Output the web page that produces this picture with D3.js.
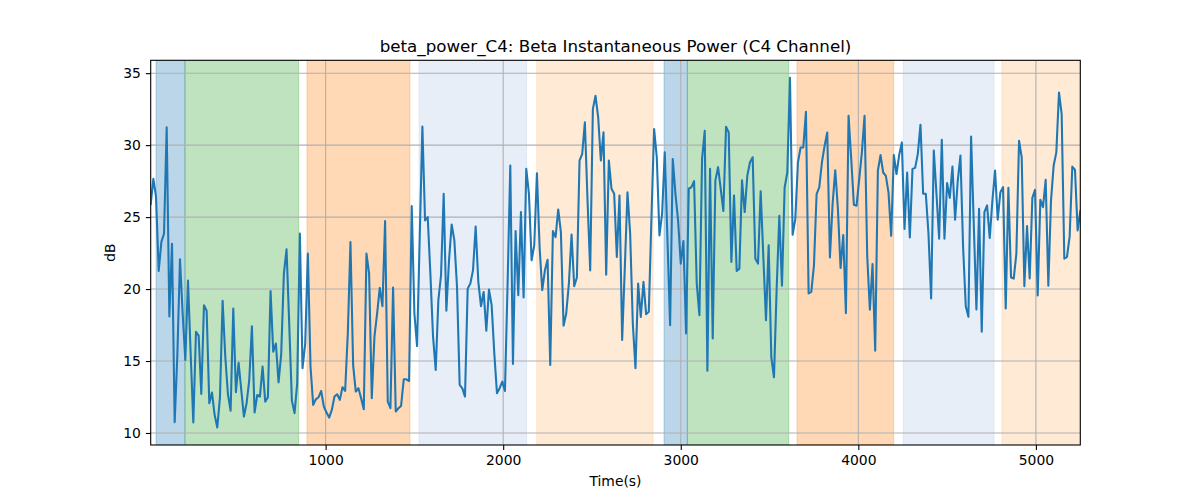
<!DOCTYPE html>
<html><head><meta charset="utf-8">
<script src="https://cdn.jsdelivr.net/npm/d3@7"></script>
<style>
body{margin:0;background:#fff;}
text{font-family:"DejaVu Sans",sans-serif;fill:#000;}
</style></head>
<body>
<svg id="chart" width="1200" height="500"></svg>
<script>
const titleText = "beta_power_C4: Beta Instantaneous Power (C4 Channel)";
const xLabel = "Time(s)";
const yLabel = "dB";
const sampleStart = 15;   // seconds
const sampleStep = 15;    // seconds between samples
const power = [
25.9,27.66,26.4,21.26,23.27,23.85,31.24,18.1,23.15,10.75,15.4,22.07,18.3,15.07,20.6,15.53,10.73,17.03,16.76,12.71,
18.88,18.49,12.07,12.81,11.26,10.38,12.48,19.18,15.3,12.69,11.54,18.65,12.83,14.88,12.99,11.14,12.07,13.68,17.42,11.42,
12.64,12.53,14.61,12.18,12.48,19.87,15.65,16.22,13.52,15.5,21.07,22.76,17.6,12.25,11.38,13.45,23.85,14.5,16.2,22.46,
14.61,11.95,12.34,12.48,12.92,11.84,11.42,11.07,11.6,12.53,12.69,12.3,13.18,12.92,16.92,23.27,14.72,12.88,13.11,12.41,
11.65,22.46,21.07,12.41,16.69,18.3,20.08,18.81,24.72,12.18,11.72,20.1,11.49,11.72,11.88,13.73,13.73,13.61,25.76,18.3,
16.04,23.6,31.3,24.77,25.0,21.07,16.69,14.38,19.23,20.96,26.62,18.49,22.0,24.49,23.38,20.15,13.34,13.1,12.53,20.03,
20.38,21.3,24.35,20.5,18.81,19.8,17.1,19.96,18.88,15.53,12.76,13.11,13.57,12.92,20.5,28.58,14.79,24.03,19.57,25.35,
19.41,28.35,26.62,22.0,23.04,28.05,22.92,19.92,21.3,22.04,14.72,24.03,23.61,25.53,23.96,17.45,18.3,20.38,23.78,20.2,
20.8,28.93,29.39,31.58,26.15,21.3,32.5,33.43,31.93,28.93,30.89,21.0,28.93,26.97,26.62,22.23,26.5,16.46,21.5,26.73,
23.85,17.61,14.5,20.38,18.07,20.5,18.26,18.42,25.0,31.12,29.16,23.73,25.23,29.5,23.5,17.49,29.04,26.62,24.77,21.77,
23.34,16.92,26.97,27.08,27.5,20.38,18.19,29.04,31.0,14.33,28.35,16.57,27.55,28.47,26.97,25.42,31.28,30.89,21.88,26.5,
21.25,21.42,27.55,25.35,27.89,28.81,29.16,22.11,21.77,26.8,22.23,17.84,23.04,15.25,13.87,20.0,25.09,20.23,27.06,28.1,
34.68,23.77,24.86,28.8,29.84,29.84,32.31,19.7,19.81,21.62,26.6,27.06,28.8,29.95,30.88,22.2,25.9,28.26,25.56,21.46,
23.75,18.33,32.04,29.03,25.86,25.79,27.64,29.5,32.04,22.31,18.56,21.74,15.72,28.22,29.31,28.1,27.87,26.7,23.7,29.31,
27.99,29.31,30.19,24.17,28.1,23.59,28.35,28.42,29.39,31.42,26.62,26.62,23.85,19.34,29.62,26.62,23.5,30.38,23.5,27.36,
26.34,28.51,24.82,27.54,29.27,22.92,18.81,18.07,30.59,24.54,18.58,25.58,17.03,25.35,25.81,23.55,26.15,28.23,24.82,26.73,
27.08,18.65,27.03,20.8,20.73,22.46,30.31,29.16,20.2,24.38,20.73,26.34,26.89,19.55,26.2,25.69,27.59,20.24,26.15,28.58,
29.5,33.66,32.16,22.11,22.23,23.66,28.51,28.28,24.08,25.42
];
const bandStarts = [45, 208, 895, 1526, 2189, 2906, 3037, 3655, 4253, 4809];
const bandEnds   = [208, 848, 1475, 2132, 2844, 3037, 3608, 4199, 4764, 5260];
const bandColors = ["#1f77b4","#2ca02c","#ff7f0e","#aec7e8","#ffbb78","#1f77b4","#2ca02c","#ff7f0e","#aec7e8","#ffbb78"];
const xTicks = [1000, 2000, 3000, 4000, 5000];
const yTicks = [10, 15, 20, 25, 30, 35];

const times = d3.range(power.length).map(i => sampleStart + sampleStep * i);
const data = power.map((v, i) => ({t: times[i], v}));

const svg = d3.select("#chart");
const L = 150.7, R = 1080.3, T = 60.3, B = 445;

const x = d3.scaleLinear().domain(d3.extent(times)).range([L, R]);
const [ymin, ymax] = d3.extent(power);
const pad = (ymax - ymin) * 0.05;
const y = d3.scaleLinear().domain([ymin - pad, ymax + pad]).range([B, T]);

svg.append("clipPath").attr("id", "clip")
  .append("rect").attr("x", L).attr("y", T).attr("width", R - L).attr("height", B - T);

const g = svg.append("g").attr("clip-path", "url(#clip)");
g.selectAll("rect.band").data(bandStarts).join("rect")
  .attr("class", "band")
  .attr("x", (d, i) => x(d))
  .attr("width", (d, i) => x(bandEnds[i]) - x(d))
  .attr("y", T).attr("height", B - T)
  .attr("fill", (d, i) => bandColors[i]).attr("fill-opacity", 0.3)
  .attr("stroke", (d, i) => bandColors[i]).attr("stroke-opacity", 0.3).attr("stroke-width", 1);

const grid = svg.append("g");
grid.selectAll("line.gx").data(xTicks).join("line")
  .attr("x1", d => x(d)).attr("x2", d => x(d)).attr("y1", T).attr("y2", B)
  .attr("stroke", "#b0b0b0").attr("stroke-width", 1.1);
grid.selectAll("line.gy").data(yTicks).join("line")
  .attr("y1", d => y(d)).attr("y2", d => y(d)).attr("x1", L).attr("x2", R)
  .attr("stroke", "#b0b0b0").attr("stroke-width", 1.1);

svg.append("g").attr("clip-path", "url(#clip)").append("path")
  .datum(data)
  .attr("fill", "none").attr("stroke", "#1f77b4").attr("stroke-width", 2.08)
  .attr("stroke-linejoin", "round").attr("stroke-linecap", "square")
  .attr("d", d3.line().x(d => x(d.t)).y(d => y(d.v)));

const xAxis = svg.append("g").attr("transform", `translate(0,${B})`)
  .call(d3.axisBottom(x).tickValues(xTicks).tickSize(4.9).tickPadding(4.9).tickFormat(d3.format("d")));
const yAxis = svg.append("g").attr("transform", `translate(${L},0)`)
  .call(d3.axisLeft(y).tickValues(yTicks).tickSize(4.9).tickPadding(4.9).tickFormat(d3.format("d")));
[xAxis, yAxis].forEach(a => {
  a.select(".domain").remove();
  a.selectAll(".tick line").attr("stroke", "#000").attr("stroke-width", 1.1);
  a.selectAll(".tick text").attr("font-size", "13.9px").attr("font-family", "DejaVu Sans");
});

svg.append("rect").attr("x", L).attr("y", T).attr("width", R - L).attr("height", B - T)
  .attr("fill", "none").attr("stroke", "#000").attr("stroke-width", 1.1);

svg.append("text").attr("x", (L + R) / 2).attr("y", 52).attr("text-anchor", "middle")
  .attr("font-size", "16.7px").text(titleText);
svg.append("text").attr("x", (L + R) / 2).attr("y", 486).attr("text-anchor", "middle")
  .attr("font-size", "13.9px").text(xLabel);
svg.append("text").attr("transform", `translate(115,${(T + B) / 2}) rotate(-90)`)
  .attr("text-anchor", "middle").attr("font-size", "13.9px").text(yLabel);
</script>
</body></html>
